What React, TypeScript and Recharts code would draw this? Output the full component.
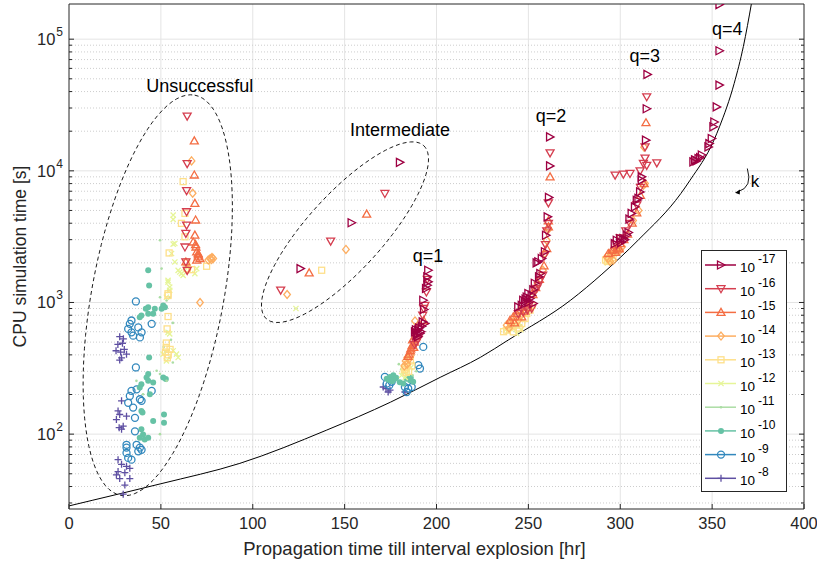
import {
  CartesianGrid,
  ComposedChart,
  Legend,
  Line,
  ReferenceDot,
  Scatter,
  XAxis,
  YAxis,
} from 'recharts'

type Row = [number, number]

// [propagation time (hr), CPU time (s)] per integration tolerance
const tol17: Row[] = [
  [180.1, 11600], [153.8, 4030], [126, 1810],
  [195.5, 1757], [195, 1566], [195.5, 1435], [195, 1352], [194.3, 1277], [192.8, 1040], [193.2, 885],
  [192.5, 713], [193.7, 692], [190.1, 617], [191, 581], [188.3, 598], [189.2, 565], [190.5, 640],
  [191.5, 600], [192, 660], [189.5, 580], [190, 550], [188.8, 620],
  [261.8, 18100], [261.8, 10900], [261.2, 6280], [260.5, 4470], [259.6, 3240], [259, 2430], [257.3, 2160],
  [255.4, 2040], [254.5, 2000], [256.5, 1660], [255.8, 1566], [253.5, 1400], [252.7, 1250], [250, 1170],
  [251.8, 1136], [250.9, 1072], [249.1, 1100], [248.2, 1010], [247.2, 1040], [246.4, 953], [244.5, 926],
  [252.7, 982], [250, 1000], [248.5, 1060],
  [314.8, 54000], [314.4, 29600], [314, 17100], [311.7, 9000], [311.7, 8490], [310.8, 6920], [309.9, 6170],
  [309, 5980], [308, 5330], [306.2, 4750], [305, 4300], [303.5, 3240], [301.7, 3060], [299.9, 3060],
  [298.1, 2970], [297, 2800], [300.5, 2850], [302.5, 3000], [304.5, 3400],
  [354, 183000], [354, 81700], [354, 44800], [352.5, 30600], [351.2, 23500], [350.7, 21600], [349.8, 17600],
  [348.5, 16100], [348, 15200], [344.4, 13200], [342.6, 12400], [340.7, 12100], [339.8, 11700],
  [341.5, 11900], [343.5, 12600],
]
const tol16: Row[] = [
  [64.3, 26000], [64.3, 11350], [64, 7080], [64, 4888], [64, 3871], [63.6, 3346], [63.1, 2640], [63.6, 2032],
  [64.3, 1754],
  [171.9, 6730], [142.4, 2925], [115.2, 1240],
  [195, 1500], [194.5, 1200], [193, 900], [193.7, 950], [192.5, 800], [191, 650], [190, 530], [189, 500],
  [188, 480],
  [261.8, 13700], [260.9, 5710], [260.9, 3980], [260, 3500], [257.8, 1610], [256.3, 1475], [255.4, 1352],
  [253.6, 1240], [254.5, 1277], [251.8, 900], [247.2, 849], [244.5, 824], [249.5, 880], [250.5, 960],
  [258.5, 2250], [259.3, 2750],
  [314.4, 36500], [313.5, 15200], [297.2, 9270], [301.7, 9440], [305.3, 9550], [310.8, 10000],
  [312.6, 11400], [314.4, 11000], [319.9, 11500], [313.5, 12500], [311, 7500], [309, 5500], [305.3, 3980],
  [303, 3500], [300, 3100], [298, 2750],
]
const tol15: Row[] = [
  [68.2, 16900], [68.2, 9300], [68.5, 5660], [68.9, 4230], [68.5, 3250], [67.6, 2880], [69.1, 2640],
  [69.5, 2420], [70.3, 2220], [71.3, 2155], [69.5, 2094], [70.3, 2355], [63.6, 2032], [68.9, 2750],
  [70.4, 2300],
  [162, 4690], [130.7, 1680],
  [186.7, 470], [185.8, 430], [187.6, 456], [185, 405], [188, 500], [187, 520], [184.5, 390], [193, 730],
  [189, 550], [186, 445],
  [261.8, 8990], [260.9, 4170], [260.9, 3750], [260, 2570], [258.5, 1900], [256, 1500], [254, 1300],
  [252.5, 1150], [245.4, 874], [243.6, 824], [241.8, 778], [246.4, 778], [240, 733], [248, 860], [250, 920],
  [242.5, 700],
  [314, 23200], [313, 8000], [311, 6500], [309, 4800], [306.5, 4000], [304, 3300], [302, 3000], [300, 2800],
  [298, 2600], [296.2, 2500], [295.4, 2495], [293.5, 2355], [297.5, 2400], [299.5, 2550],
]
const tol14: Row[] = [
  [66.7, 11900], [67.3, 6760], [64.3, 1775], [71.3, 1000], [76.8, 2150], [77.8, 2200], [78.5, 2155],
  [77.6, 2118], [75.8, 2100],
  [150.7, 2530], [118.7, 1150],
  [188.3, 724], [183.2, 360], [184.1, 382], [185, 371], [184, 340], [186, 395], [182.5, 330],
  [260.9, 3600], [260, 2970], [259, 2355], [257.9, 1757], [255, 1400], [253, 1200], [243.6, 778],
  [241.8, 713], [240, 692], [238.2, 673], [244.5, 733], [246, 800], [248, 850], [239.5, 640],
  [313, 15100], [312.6, 7780], [313.5, 8020], [310, 5000], [307, 4200], [292.6, 2220], [293.5, 2160],
  [295.4, 2290], [298.1, 2430], [299.9, 2500], [296.2, 2090], [294.5, 2050], [301, 2650],
]
const tol13: Row[] = [
  [62.1, 8280], [61.2, 3990], [63.1, 3155], [54.5, 2378], [64, 2032], [66.7, 1775], [74.9, 1884],
  [53.9, 1130], [53.9, 782], [53.4, 630], [53, 492], [53, 456], [63.1, 4750], [64.3, 1808], [53.9, 1165],
  [52.5, 420], [54, 400], [55, 440], [53.5, 380],
  [137.5, 1757],
  [184.1, 340], [183.2, 321], [185.8, 360], [182.5, 310], [184.8, 300], [186.5, 330], [183.5, 295],
  [240.9, 653], [243.6, 673], [246.4, 692], [248.2, 755], [238.2, 617], [241.8, 598], [249.1, 824],
  [250.9, 874], [252, 950], [245, 640], [236.5, 600],
  [292, 2100], [294, 2150], [296, 2200], [293, 2050],
]
const tol12: Row[] = [
  [56.7, 4277], [56.7, 2775], [57.6, 2032], [59.4, 1754], [60.3, 1703], [62.1, 1606], [68.5, 1656],
  [69.5, 1808], [53.9, 1472], [54.8, 1309], [53, 1097], [53.9, 593], [54.8, 577], [56.7, 430], [59.4, 382],
  [58.5, 405], [53, 360], [51.2, 405], [56.7, 4616], [57.6, 2806], [55.8, 2355], [53.9, 1429], [54.8, 1235],
  [61.2, 1656], [64.9, 1862],
  [123.5, 900],
  [182, 300], [184, 290], [186, 320], [181, 280], [183, 270],
  [241.8, 634], [243.6, 581], [240, 634], [239, 600], [246, 620], [237.5, 620], [244.5, 660],
  [293, 2000], [295, 2080],
]
const tol11: Row[] = [
  [49.5, 2973], [50.4, 1808], [54, 1235], [49.5, 1097], [53.1, 1036], [54.9, 1097], [47.7, 303],
  [49.5, 286], [53.1, 254], [36.7, 254], [40.3, 201], [49.5, 100], [52.5, 420], [54.5, 380], [56.5, 350],
  [51.5, 460], [55.5, 520], [53.5, 600], [56.5, 700],
  [179.5, 340], [180.8, 311], [187, 280], [189, 300], [182, 290],
  [240, 610], [243, 640], [246, 670],
]
const tol10: Row[] = [
  [43.1, 1754], [43.6, 1348], [43.1, 920], [41.8, 896], [39.4, 795], [38.5, 773], [43.1, 820], [45.8, 820],
  [46.7, 896], [51.3, 948], [52.2, 920], [50.4, 896], [43.6, 382], [43.1, 286], [42.2, 269], [39.4, 239],
  [38.5, 226], [43.1, 254], [45.8, 247], [51.3, 269], [52.7, 262], [44, 201], [39.4, 150], [40, 146],
  [45.8, 126], [51.7, 141], [51.7, 122], [39.4, 109], [40.3, 99.5], [41.2, 91], [43.1, 94], [38.5, 94],
  [174.7, 272], [176.5, 280], [172.9, 264], [177.4, 264], [183.8, 264], [185.6, 257], [187.3, 250],
  [181.9, 242], [174, 258], [176, 252], [178, 268], [180, 248], [186, 268],
]
const tol9: Row[] = [
  [36.4, 1018], [34, 730], [33.1, 688], [32.2, 630], [34, 593], [34.9, 560], [37.7, 647], [39.5, 593],
  [38.6, 543], [45, 688], [36.4, 321], [34, 213], [33.1, 195], [32.2, 173], [34.9, 159], [35.9, 133],
  [36.8, 219], [38.6, 184], [39.5, 179], [45, 213], [35.9, 105], [31.3, 83], [31.3, 79], [31.3, 72],
  [32.2, 66], [34, 64], [36.8, 83], [38.6, 79], [39.5, 76], [37.7, 74],
  [171.9, 272], [172.9, 242], [174.3, 235], [175.6, 250], [182.8, 228], [184.6, 222], [183.8, 209],
  [186.5, 228], [191, 315], [192.8, 460], [190.1, 334],
]
const tol8: Row[] = [
  [27.6, 550], [29.6, 530], [26.6, 480], [29.1, 490], [25.6, 430], [28.1, 420], [31.3, 405], [28.6, 380],
  [27.6, 365], [30.1, 440],
  [28.6, 179], [26.7, 150], [27.6, 141], [25.8, 129], [31.3, 137], [27.3, 112], [28.6, 109], [29.5, 115],
  [26.7, 64], [28.6, 59], [31.3, 57], [33.1, 55], [26.7, 52], [30.4, 51], [27.6, 46], [33.1, 46],
  [30.4, 41], [29.5, 35], [25.8, 49],
  [171, 228], [173.7, 209], [174.7, 216], [182.8, 209], [172.5, 222],
]

// bound on the propagation time
const boundHours = [0, 13, 50, 93, 140, 175, 202, 224, 239, 273, 290, 310, 333, 338, 351, 354, 362, 367, 371.5]
const boundCpu = [28.5, 31.5, 42, 60, 107, 175, 270, 384, 518, 1041, 1640, 3000, 6730, 8490, 17100, 21600, 46100, 88000, 190000]

const exponents = [-17, -16, -15, -14, -13, -12, -11, -10, -9, -8]
const runs = [tol17, tol16, tol15, tol14, tol13, tol12, tol11, tol10, tol9, tol8]
const colors = ['#9e0142', '#d53e4f', '#f46d43', '#fdae61', '#fee08b', '#e6f598', '#abdda4', '#66c2a5', '#3288bd', '#5e4fa2']
const markers = ['right', 'down', 'up', 'diamond', 'square', 'cross', 'dot', 'disc', 'circle', 'plus']

const xTicks = [0, 50, 100, 150, 200, 250, 300, 350, 400]
const yMajor = [100, 1000, 10000, 100000]
const yMinor = [30, 40, 50, 60, 70, 80, 90, 200, 300, 400, 500, 600, 700, 800, 900,
  2000, 3000, 4000, 5000, 6000, 7000, 8000, 9000, 20000, 30000, 40000, 50000, 60000, 70000, 80000, 90000]
const yTicks = [...yMinor, ...yMajor].sort((a, b) => a - b)

// ellipse outlines: centre and two half-axis vectors in (hours, decades)
const unsuccessfulRing = { cx: 48.3, cl: 3.055, ax: 20.1, al: 1.52, bx: 35.3, bl: -0.091 }
const intermediateRing = { cx: 150.2, cl: 3.534, ax: 42.8, al: 0.658, bx: 15.3, bl: -0.194 }

const notes = [
  { text: 'Unsuccessful', x: 71.2, y: 44000 },
  { text: 'Intermediate', x: 180.1, y: 20400 },
  { text: 'q=1', x: 195.4, y: 2245 },
  { text: 'q=2', x: 262.3, y: 26000 },
  { text: 'q=3', x: 313.4, y: 74500 },
  { text: 'q=4', x: 358.2, y: 119000 },
]

const axisColor = '#262626'
const toPoints = (rows: Row[]) => rows.map(([x, y]) => ({ x, y }))
const boundCurve = boundHours.map((x, i) => ({ x, y: boundCpu[i] }))

function ring(r: typeof unsuccessfulRing) {
  return Array.from({ length: 97 }, (_, i) => {
    const t = (i / 96) * 2 * Math.PI
    return {
      x: r.cx + r.ax * Math.cos(t) + r.bx * Math.sin(t),
      y: 10 ** (r.cl + r.al * Math.cos(t) + r.bl * Math.sin(t)),
    }
  })
}

function Marker({ kind, color, cx, cy }: { kind: string; color: string; cx: number; cy: number }) {
  const s = { fill: 'none', stroke: color, strokeWidth: 1.3 }
  switch (kind) {
    case 'right':
      return <polygon points={`${cx - 3.5},${cy - 4} ${cx + 4},${cy} ${cx - 3.5},${cy + 4}`} {...s} />
    case 'down':
      return <polygon points={`${cx - 4},${cy - 3} ${cx + 4},${cy - 3} ${cx},${cy + 4}`} {...s} />
    case 'up':
      return <polygon points={`${cx - 4},${cy + 3} ${cx + 4},${cy + 3} ${cx},${cy - 4}`} {...s} />
    case 'diamond':
      return <polygon points={`${cx},${cy - 4} ${cx + 3.3},${cy} ${cx},${cy + 4} ${cx - 3.3},${cy}`} {...s} />
    case 'square':
      return <rect x={cx - 3} y={cy - 3} width={6} height={6} {...s} />
    case 'cross':
      return (
        <path d={`M${cx - 2.6},${cy - 2.6}L${cx + 2.6},${cy + 2.6}M${cx - 2.6},${cy + 2.6}L${cx + 2.6},${cy - 2.6}`} {...s} />
      )
    case 'dot':
      return <circle cx={cx} cy={cy} r={1.3} fill={color} />
    case 'disc':
      return <circle cx={cx} cy={cy} r={3} fill={color} />
    case 'circle':
      return <circle cx={cx} cy={cy} r={3.5} {...s} />
    default:
      return <path d={`M${cx - 3.5},${cy}L${cx + 3.5},${cy}M${cx},${cy - 3.5}L${cx},${cy + 3.5}`} {...s} />
  }
}

const isDecade = (v: number) => Math.abs(Math.log10(v) - Math.round(Math.log10(v))) < 1e-6

function LeftTick({ x, y, payload }: any) {
  const major = isDecade(payload.value)
  return (
    <g>
      <line x1={x} x2={x + (major ? 5 : 3)} y1={y} y2={y} stroke={axisColor} />
      {major && (
        <text x={x - 6} y={y + 6} textAnchor="end" fontSize={16.5} fill={axisColor}>
          10<tspan dx={1} dy={-9} fontSize={12}>{Math.round(Math.log10(payload.value))}</tspan>
        </text>
      )}
    </g>
  )
}

function RightTick({ x, y, payload }: any) {
  const major = isDecade(payload.value)
  return <line x1={x} x2={x - (major ? 5 : 3)} y1={y} y2={y} stroke={axisColor} />
}

function BottomTick({ x, y, payload }: any) {
  return (
    <g>
      <line x1={x} x2={x} y1={y} y2={y - 5} stroke={axisColor} />
      <text x={x} y={y + 20} textAnchor="middle" fontSize={16.5} fill={axisColor}>
        {payload.value}
      </text>
    </g>
  )
}

function TopTick({ x, y }: any) {
  return <line x1={x} x2={x} y1={y} y2={y + 5} stroke={axisColor} />
}

function ToleranceLegend() {
  return (
    <svg width={86} height={242} style={{ display: 'block' }}>
      <rect x={0.5} y={0.5} width={85} height={241} fill="#fff" stroke={axisColor} />
      {exponents.map((e, i) => {
        const cy = 15 + i * 23.7
        return (
          <g key={e}>
            <line x1={4} x2={35} y1={cy} y2={cy} stroke={colors[i]} strokeWidth={1.5} />
            <Marker kind={markers[i]} color={colors[i]} cx={20} cy={cy} />
            <text x={39} y={cy + 7} fontSize={13.5} fill="#000">
              10<tspan dx={3} dy={-9} fontSize={12}>{e}</tspan>
            </text>
          </g>
        )
      })}
    </svg>
  )
}

export default function App() {
  return (
    <div style={{ position: 'absolute', left: 0, top: 0, fontFamily: '"Liberation Sans", Arial, sans-serif', background: '#fff' }}>
      <ComposedChart width={817} height={568} margin={{ top: 0, right: 0, bottom: 0, left: 0 }}>
        <CartesianGrid horizontalValues={yMajor} verticalValues={[50, 100, 150, 200, 250, 300, 350]} stroke="#e4e4e4" />
        <CartesianGrid horizontalValues={yMinor} vertical={false} stroke="#cdcdcd" strokeDasharray="1 2" />
        <XAxis
          type="number"
          dataKey="x"
          domain={[0, 400]}
          ticks={xTicks}
          interval={0}
          height={59}
          tickSize={0}
          tickMargin={0}
          tickLine={false}
          axisLine={{ stroke: axisColor }}
          tick={<BottomTick />}
          label={{
            content: ({ viewBox }: any) => (
              <text x={viewBox.x + viewBox.width / 2 - 22} y={viewBox.y + 46} textAnchor="middle" fontSize={18.5} fill={axisColor}>
                Propagation time till interval explosion [hr]
              </text>
            ),
          }}
        />
        <XAxis
          xAxisId="top"
          orientation="top"
          type="number"
          dataKey="x"
          domain={[0, 400]}
          ticks={xTicks}
          interval={0}
          height={4}
          tickSize={0}
          tickMargin={0}
          tickLine={false}
          axisLine={{ stroke: axisColor }}
          tick={<TopTick />}
        />
        <YAxis
          type="number"
          dataKey="y"
          scale="log"
          domain={[27, 185000]}
          allowDataOverflow
          ticks={yTicks}
          interval={0}
          width={69}
          tickSize={0}
          tickMargin={0}
          tickLine={false}
          axisLine={{ stroke: axisColor }}
          tick={<LeftTick />}
          label={{
            content: ({ viewBox }: any) => {
              const cx = viewBox.x + 20
              const cy = viewBox.y + viewBox.height / 2
              return (
                <text x={cx} y={cy} transform={`rotate(-90 ${cx} ${cy})`} textAnchor="middle" dominantBaseline="central" fontSize={17.5} fill={axisColor}>
                  CPU simulation time [s]
                </text>
              )
            },
          }}
        />
        <YAxis
          yAxisId="right"
          orientation="right"
          type="number"
          dataKey="y"
          scale="log"
          domain={[27, 185000]}
          allowDataOverflow
          ticks={yTicks}
          interval={0}
          width={13}
          tickSize={0}
          tickMargin={0}
          tickLine={false}
          axisLine={{ stroke: axisColor }}
          tick={<RightTick />}
        />

        <Line data={ring(unsuccessfulRing)} dataKey="y" type="linear" stroke="#000" strokeWidth={0.9} strokeDasharray="4 3" dot={false} isAnimationActive={false} legendType="none" />
        <Line data={ring(intermediateRing)} dataKey="y" type="linear" stroke="#000" strokeWidth={0.9} strokeDasharray="4 3" dot={false} isAnimationActive={false} legendType="none" />
        <Line data={boundCurve} dataKey="y" type="monotone" stroke="#000" strokeWidth={1} dot={false} isAnimationActive={false} legendType="none" />

        {runs
          .map((rows, i) => (
            <Scatter
              key={exponents[i]}
              name={`1e${exponents[i]}`}
              data={toPoints(rows)}
              isAnimationActive={false}
              shape={(p: any) => <Marker kind={markers[i]} color={colors[i]} cx={p.cx} cy={p.cy} />}
            />
          ))
          .reverse()}

        {notes.map((n) => (
          <ReferenceDot
            key={n.text}
            x={n.x}
            y={n.y}
            r={0}
            shape={(p: any) => (
              <text x={p.cx} y={p.cy} textAnchor="middle" dominantBaseline="central" fontSize={18} fill="#000">
                {n.text}
              </text>
            )}
          />
        ))}
        <ReferenceDot
          x={372.8}
          y={8340}
          r={0}
          shape={(p: any) => (
            <g>
              <text x={p.cx + 1} y={p.cy} textAnchor="middle" dominantBaseline="central" fontSize={17} fill="#000">k</text>
              <path d={`M${p.cx - 6.7},${p.cy - 12.7}Q${p.cx - 1},${p.cy + 6} ${p.cx - 16},${p.cy + 10.5}`} fill="none" stroke="#000" strokeWidth={0.9} />
              <polygon points={`${p.cx - 19},${p.cy + 11.5} ${p.cx - 14},${p.cy + 8.2} ${p.cx - 14.3},${p.cy + 13.2}`} fill="#000" />
            </g>
          )}
        />

        <Legend
          layout="horizontal"
          verticalAlign="middle"
          align="center"
          content={() => <ToleranceLegend />}
          wrapperStyle={{ left: 701, top: 250, width: 86, height: 242 }}
        />
      </ComposedChart>
    </div>
  )
}
